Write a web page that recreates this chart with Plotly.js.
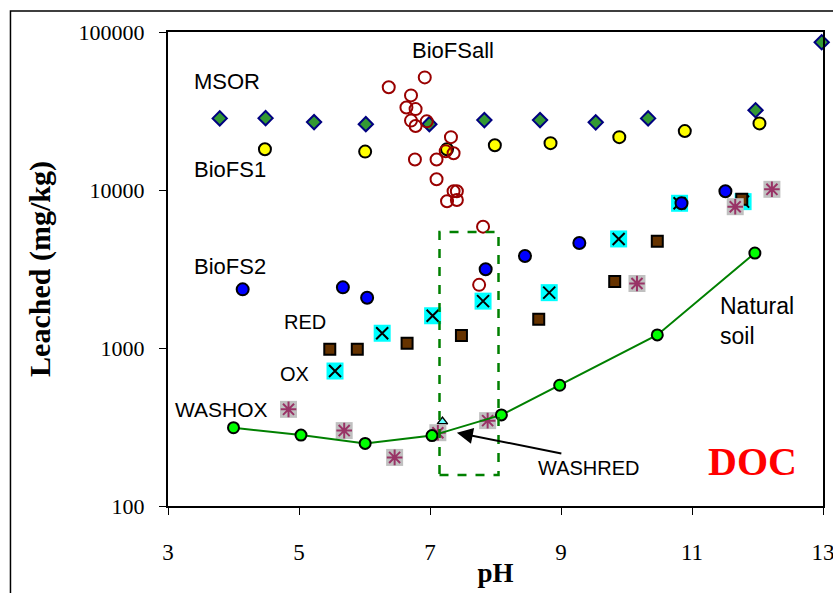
<!DOCTYPE html>
<html>
<head>
<meta charset="utf-8">
<script src="https://cdn.plot.ly/plotly-3.0.1.min.js"></script>
<style>
  html, body { margin: 0; padding: 0; background: #fff; }
  #chart { width: 833px; height: 593px; }
</style>
</head>
<body>
<div id="chart"></div>
<script>
// ---- data (pH, Leached mg/kg) ----
var msorPH   = [3.79, 4.49, 5.23, 6.02, 6.99, 7.83, 8.68, 9.53, 10.33, 11.97, 12.98];
var msorVal  = [28400, 28500, 26900, 26100, 26100, 27700, 27700, 26800, 28400, 32000, 86100];

var biofs1PH  = [4.48, 6.01, 7.26, 7.99, 8.84, 9.89, 10.89, 12.03];
var biofs1Val = [18100, 17500, 18100, 19200, 19800, 21600, 23600, 26400];

var biofsallPH  = [6.92, 6.37, 6.71, 6.64, 6.78, 6.71, 6.78, 6.95, 7.32, 7.24, 7.36, 6.77, 7.10, 7.10, 7.36, 7.41, 7.26, 7.41, 7.81, 7.75];
var biofsallVal = [51600, 44700, 39700, 33300, 32500, 27500, 25400, 27200, 21600, 17600, 17100, 15600, 15600, 11700, 9820, 9820, 8480, 8640, 5860, 2510];

var biofs2PH  = [4.14, 5.67, 6.04, 7.85, 8.45, 9.28, 10.84, 11.51];
var biofs2Val = [2350, 2420, 2080, 3150, 3820, 4620, 8240, 9820];

var oxPH  = [5.55, 6.27, 7.04, 7.81, 8.82, 9.88, 10.81, 11.78];
var oxVal = [715, 1240, 1600, 1980, 2240, 4900, 8240, 8440];

var redPH  = [5.47, 5.89, 6.65, 7.48, 8.66, 9.82, 10.47, 11.76];
var redVal = [982, 982, 1070, 1200, 1520, 2640, 4730, 8740];

var washoxPH  = [4.84, 5.69, 6.46, 7.12, 7.88, 10.16, 11.66, 12.22];
var washoxVal = [409, 300, 203, 291, 347, 2560, 7840, 10100];

var washredPH  = [7.19];
var washredVal = [342];

var soilPH  = [4.00, 5.03, 6.01, 7.03, 8.09, 8.98, 10.47, 11.96];
var soilVal = [313, 281, 249, 279, 377, 581, 1210, 3990];

var xTickVals = [3, 5, 7, 9, 11, 13];
var yTickVals = [100, 1000, 10000, 100000];
var yTickText = ['100', '1000', '10000', '100000'];

// ---- traces ----
var traces = [
  { x: msorPH, y: msorVal, mode: 'markers', type: 'scatter', name: 'MSOR', cliponaxis: false,
    marker: { symbol: 'diamond', size: 11, color: '#339933', line: { color: '#000080', width: 2 } } },
  { x: biofs1PH, y: biofs1Val, mode: 'markers', type: 'scatter', name: 'BioFS1',
    marker: { symbol: 'circle', size: 12, color: '#FFFF00', line: { color: '#000000', width: 2 } } },
  { x: biofsallPH, y: biofsallVal, mode: 'markers', type: 'scatter', name: 'BioFSall',
    marker: { symbol: 'circle-open', size: 12, color: '#990000', line: { color: '#990000', width: 2 } } },
  { x: oxPH, y: oxVal, mode: 'markers', type: 'scatter', name: 'OX bg',
    marker: { symbol: 'square', size: 17, color: '#00FFFF', line: { width: 0 } } },
  { x: oxPH, y: oxVal, mode: 'markers', type: 'scatter', name: 'OX',
    marker: { symbol: 'x-thin-open', size: 12, color: '#000000', line: { color: '#000000', width: 2 } } },
  { x: biofs2PH, y: biofs2Val, mode: 'markers', type: 'scatter', name: 'BioFS2',
    marker: { symbol: 'circle', size: 12, color: '#0000FF', line: { color: '#000000', width: 2 } } },
  { x: redPH, y: redVal, mode: 'markers', type: 'scatter', name: 'RED',
    marker: { symbol: 'square', size: 11, color: '#663300', line: { color: '#000000', width: 2 } } },
  { x: washredPH, y: washredVal, mode: 'markers', type: 'scatter', name: 'WASHRED',
    marker: { symbol: 'triangle-up', size: 9, color: '#66FFFF', line: { color: '#000000', width: 1.5 } } },
  { x: washoxPH, y: washoxVal, mode: 'markers', type: 'scatter', name: 'WASHOX bg',
    marker: { symbol: 'square', size: 17, color: '#C0C0C0', line: { width: 0 } } },
  { x: washoxPH, y: washoxVal, mode: 'markers', type: 'scatter', name: 'WASHOX',
    marker: { symbol: 'asterisk-open', size: 13, color: '#993366', line: { color: '#993366', width: 2 } } },
  { x: soilPH, y: soilVal, mode: 'lines+markers', type: 'scatter', name: 'Natural soil',
    line: { color: '#008000', width: 2 },
    marker: { symbol: 'circle', size: 11, color: '#00FF00', line: { color: '#000000', width: 2 } } }
];

function lbl(text, x, ylog, size, extra) {
  var a = { text: text, x: x, y: ylog, xref: 'x', yref: 'y', showarrow: false,
            xanchor: 'left', yanchor: 'middle',
            font: { family: 'Liberation Sans, Arial, sans-serif', size: size, color: '#000' } };
  if (extra) for (var k in extra) a[k] = extra[k];
  return a;
}

var annotations = [
  lbl('MSOR', 3.36, 4.685, 22),
  lbl('BioFS1', 3.36, 4.131, 22),
  lbl('BioFSall', 6.70, 4.886, 22),
  lbl('BioFS2', 3.36, 3.519, 22),
  lbl('RED', 4.74, 3.163, 20),
  lbl('OX', 4.68, 2.834, 20),
  lbl('WASHOX', 3.08, 2.612, 21),
  lbl('WASHRED', 8.62, 2.239, 20),
  lbl('Natural<br>soil', 11.39, 3.168, 23, { align: 'left' }),
  { text: '<b>DOC</b>', x: 11.21, y: 2.28, xref: 'x', yref: 'y', showarrow: false,
    xanchor: 'left', yanchor: 'middle',
    font: { family: 'Liberation Serif, Times New Roman, serif', size: 40, color: '#FF0000' } },
  // arrow pointing from WASHRED label to the dashed box
  { text: '', x: 7.41, y: Math.log10(291), xref: 'x', yref: 'y', showarrow: true,
    ax: 106, ay: 21, arrowhead: 2, arrowsize: 1.6, arrowwidth: 2, arrowcolor: '#000000' }
];

var shapes = [
  // dashed green box around WASHRED region
  { type: 'rect', xref: 'x', yref: 'y', x0: 7.145, x1: 8.046, y0: 157, y1: 5420,
    line: { color: '#008000', width: 2.5, dash: 'dash' } },
  // outer chart frame
  { type: 'rect', xref: 'paper', yref: 'paper', x0: -0.2405, x1: 1.05, y0: -0.25, y1: 1.0443,
    line: { color: '#000000', width: 1.5 } }
];

var layout = {
  width: 833, height: 593,
  margin: { l: 168, r: 10, t: 32, b: 87 },
  paper_bgcolor: '#ffffff', plot_bgcolor: '#ffffff',
  showlegend: false,
  xaxis: {
    range: [3, 13], tickvals: xTickVals, ticktext: xTickVals.map(String),
    showgrid: false, zeroline: false,
    showline: true, mirror: true, linecolor: '#000', linewidth: 2,
    ticks: 'outside', ticklen: 7, tickwidth: 1, tickcolor: '#000',
    ticklabelstandoff: 17, ticklabeloverflow: 'allow',
    tickfont: { family: 'Liberation Serif, Times New Roman, serif', size: 23, color: '#000' },
    title: { text: '<b>pH</b>', standoff: 0,
             font: { family: 'Liberation Serif, Times New Roman, serif', size: 27, color: '#000' } }
  },
  yaxis: {
    type: 'log', range: [2, 5], tickvals: yTickVals, ticktext: yTickText,
    showgrid: false, zeroline: false,
    showline: true, mirror: true, linecolor: '#000', linewidth: 2,
    ticks: 'outside', ticklen: 7, tickwidth: 1, tickcolor: '#000',
    ticklabelstandoff: 10,
    tickfont: { family: 'Liberation Serif, Times New Roman, serif', size: 22, color: '#000' },
    title: { text: '<b>Leached (mg/kg)</b>', standoff: 19,
             font: { family: 'Liberation Serif, Times New Roman, serif', size: 30, color: '#000' } }
  },
  annotations: annotations,
  shapes: shapes
};

Plotly.newPlot('chart', traces, layout, { displayModeBar: false, staticPlot: true });
</script>
</body>
</html>
